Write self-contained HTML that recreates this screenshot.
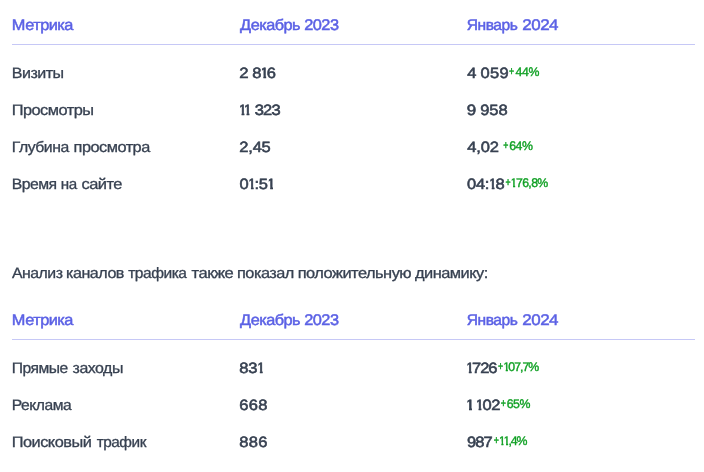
<!DOCTYPE html>
<html lang="ru">
<head>
<meta charset="utf-8">
<title>Метрика</title>
<style>
html,body{margin:0;padding:0;background:#fff;}
body{width:704px;height:472px;overflow:hidden;position:relative;font-family:"Liberation Sans",sans-serif;color:#374151;font-size:16px;text-rendering:geometricPrecision;}
span{display:inline-block;transform-origin:0 100%;line-height:24px;vertical-align:baseline;}
table.t{position:absolute;left:12px;width:683px;border-collapse:separate;border-spacing:0;table-layout:fixed;}
table.t1{top:0;}
table.t2{top:295px;}
table.t th,table.t td{padding:0;text-align:left;vertical-align:top;white-space:nowrap;box-sizing:border-box;line-height:24px;}
table.t th{height:45px;border-bottom:1px solid #c6c8f6;color:#5b61e5;font-weight:400;padding-top:13px;font-size:16px;letter-spacing:-0.5px;-webkit-text-stroke:0.5px #5b61e5;}
table.t td{height:37px;padding-top:6px;}
table.t tbody tr:first-child td{height:48px;padding-top:17px;}
td.a{font-size:16px;letter-spacing:-0.5px;-webkit-text-stroke:0.32px #374151;}
td.b{font-size:16px;letter-spacing:-0.6px;-webkit-text-stroke:0.6px #374151;}
sup{color:#10a024;font-size:12.3px;letter-spacing:-0.35px;-webkit-text-stroke:0.38px #10a024;vertical-align:baseline;line-height:24px;}
sup span:first-child{font-size:10.5px;-webkit-text-stroke-width:0.45px;letter-spacing:0;}
td.b i{font-style:normal;clip-path:polygon(2.2px -3px,6.3px -3px,6.3px 120%,3.6px 120%,3.6px 10.5px,2.2px 10.5px);margin:0 -1.3px 0 -0.9px;}
td.b sup i{clip-path:polygon(1.4px -3px,4.9px -3px,4.9px 120%,2.8px 120%,2.8px 8.0px,1.4px 8.0px);margin:0 -0.5px 0 -0.6px;}
p.x{position:absolute;left:12px;top:262px;margin:0;line-height:24px;white-space:nowrap;font-size:16px;letter-spacing:-0.5px;-webkit-text-stroke:0.32px #374151;}
</style>
</head>
<body>
<table class="t t1">
<thead><tr><th><span style="transform:translate(-0.16px,0.60px) scale(1.0218,0.96)">Метрика</span></th><th><span style="transform:translate(0.10px,0.60px) scale(1.0183,0.96)">Декабрь</span> <span style="transform:translate(1.20px,0.60px) scale(1.0220,0.96)">2023</span></th><th><span style="transform:translate(-0.17px,0.60px) scale(0.9729,0.96)">Январь</span> <span style="transform:translate(-0.63px,0.60px) scale(1.0619,0.96)">2024</span></th></tr></thead>
<tbody>
<tr><td class="a"><span style="transform:translate(-0.27px,-0.60px) scale(1.0034,0.94)">Визиты</span></td><td class="b"><span style="transform:translate(-0.65px,-0.40px) scale(1.0479,0.93)">2</span> <span style="transform:translate(0.31px,-0.40px) scale(1.03,0.93);letter-spacing:-0.84px">8<i>1</i>6</span></td><td class="b"><span style="transform:translate(0.35px,-0.40px) scale(1.0284,0.93)">4</span> <span style="transform:translate(1.45px,-0.40px) scale(1.03,0.93);letter-spacing:0.29px">059</span><sup><span style="transform:translate(2.11px,-1.80px) scale(0.8337,1.1)">+</span><span style="transform:translate(2.23px,-2.20px) scale(1.0,1.02);letter-spacing:-0.30px">44%</span></sup></td></tr>
<tr><td class="a"><span style="transform:translate(-0.34px,-0.60px) scale(1.0228,0.94)">Просмотры</span></td><td class="b"><span style="transform:translate(-1.19px,-0.40px) scale(1.03,0.93);letter-spacing:-1.87px"><i>1</i><i>1</i></span> <span style="transform:translate(1.65px,-0.40px) scale(1.03,0.93);letter-spacing:-0.72px">323</span></td><td class="b"><span style="transform:translate(-0.15px,-0.40px) scale(1.0592,0.93)">9</span> <span style="transform:translate(1.13px,-0.40px) scale(1.03,0.93);letter-spacing:-0.04px">958</span></td></tr>
<tr><td class="a"><span style="transform:translate(-0.18px,-0.60px) scale(0.9871,0.94)">Глубина</span> <span style="transform:translate(-0.45px,-0.60px) scale(1.0214,0.94)">просмотра</span></td><td class="b"><span style="transform:translate(-0.64px,-0.40px) scale(1.03,0.93);letter-spacing:-0.22px">2,45</span></td><td class="b"><span style="transform:translate(0.31px,-0.40px) scale(1.03,0.93);letter-spacing:-0.18px">4,02</span><sup><span style="transform:translate(5.14px,-1.80px) scale(0.8334,1.1)">+</span><span style="transform:translate(5.34px,-2.20px) scale(1.0,1.02);letter-spacing:-0.48px">64%</span></sup></td></tr>
<tr><td class="a"><span style="transform:translate(-0.34px,-0.60px) scale(0.9864,0.94)">Время</span> <span style="transform:translate(-1.19px,-0.60px) scale(0.9491,0.94)">на</span> <span style="transform:translate(-0.54px,-0.60px) scale(1.0293,0.94)">сайте</span></td><td class="b"><span style="transform:translate(-0.56px,-0.40px) scale(1.03,0.93);letter-spacing:-0.45px">0<i>1</i>:5<i>1</i></span></td><td class="b"><span style="transform:translate(0.05px,-0.40px) scale(1.03,0.93);letter-spacing:-0.32px">04:<i>1</i>8</span><sup><span style="transform:translate(1.43px,-1.80px) scale(0.8355,1.1)">+</span><span style="transform:translate(1.08px,-2.20px) scale(1.0,1.02);letter-spacing:-0.63px"><i>1</i>76,8%</span></sup></td></tr>
</tbody></table>
<p class="x"><span style="transform:translate(-0.06px,0.00px) scale(0.9902,0.94)">Анализ</span> <span style="transform:translate(-0.91px,0.00px) scale(1.0072,0.94)">каналов</span> <span style="transform:translate(0.21px,0.00px) scale(0.9721,0.94)">трафика</span> <span style="transform:translate(-0.41px,0.00px) scale(1.0359,0.94)">также</span> <span style="transform:translate(0.98px,0.00px) scale(1.0208,0.94)">показал</span> <span style="transform:translate(1.67px,0.00px) scale(1.0259,0.94)">положительную</span> <span style="transform:translate(3.96px,0.00px) scale(1.0255,0.94)">динамику:</span></p>
<table class="t t2">
<thead><tr><th><span style="transform:translate(-0.16px,0.60px) scale(1.0218,0.96)">Метрика</span></th><th><span style="transform:translate(0.10px,0.60px) scale(1.0183,0.96)">Декабрь</span> <span style="transform:translate(1.20px,0.60px) scale(1.0220,0.96)">2023</span></th><th><span style="transform:translate(-0.17px,0.60px) scale(0.9729,0.96)">Январь</span> <span style="transform:translate(-0.63px,0.60px) scale(1.0619,0.96)">2024</span></th></tr></thead>
<tbody>
<tr><td class="a"><span style="transform:translate(-0.21px,-0.60px) scale(0.9783,0.94)">Прямые</span> <span style="transform:translate(-0.38px,-0.60px) scale(0.9961,0.94)">заходы</span></td><td class="b"><span style="transform:translate(-0.63px,-0.40px) scale(1.03,0.93);letter-spacing:-0.31px">83<i>1</i></span></td><td class="b"><span style="transform:translate(-0.94px,-0.40px) scale(1.03,0.93);letter-spacing:-0.96px"><i>1</i>726</span><sup><span style="transform:translate(1.11px,-1.80px) scale(0.8336,1.1)">+</span><span style="transform:translate(0.51px,-2.20px) scale(1.0,1.02);letter-spacing:-0.99px"><i>1</i>07,7%</span></sup></td></tr>
<tr><td class="a"><span style="transform:translate(-0.24px,-0.60px) scale(0.9788,0.94)">Реклама</span></td><td class="b"><span style="transform:translate(-0.70px,-0.40px) scale(1.03,0.93);letter-spacing:0.36px">668</span></td><td class="b"><span style="transform:translate(-1.06px,-0.40px) scale(1.1245,0.93)"><i>1</i></span> <span style="transform:translate(-1.19px,-0.40px) scale(1.03,0.93);letter-spacing:-0.26px"><i>1</i>02</span><sup><span style="transform:translate(-0.27px,-1.80px) scale(0.8481,1.1)">+</span><span style="transform:translate(-0.43px,-2.20px) scale(1.0,1.02);letter-spacing:-0.50px">65%</span></sup></td></tr>
<tr><td class="a"><span style="transform:translate(-0.23px,-0.60px) scale(1.0208,0.94)">Поисковый</span> <span style="transform:translate(2.67px,-0.60px) scale(0.9605,0.94)">трафик</span></td><td class="b"><span style="transform:translate(-0.63px,-0.40px) scale(1.03,0.93);letter-spacing:0.31px">886</span></td><td class="b"><span style="transform:translate(-0.10px,-0.40px) scale(1.03,0.93);letter-spacing:-0.90px">987</span><sup><span style="transform:translate(2.73px,-1.80px) scale(0.8425,1.1)">+</span><span style="transform:translate(1.77px,-2.20px) scale(1.0,1.02);letter-spacing:-1.14px"><i>1</i><i>1</i>,4%</span></sup></td></tr>
</tbody></table>
</body>
</html>
